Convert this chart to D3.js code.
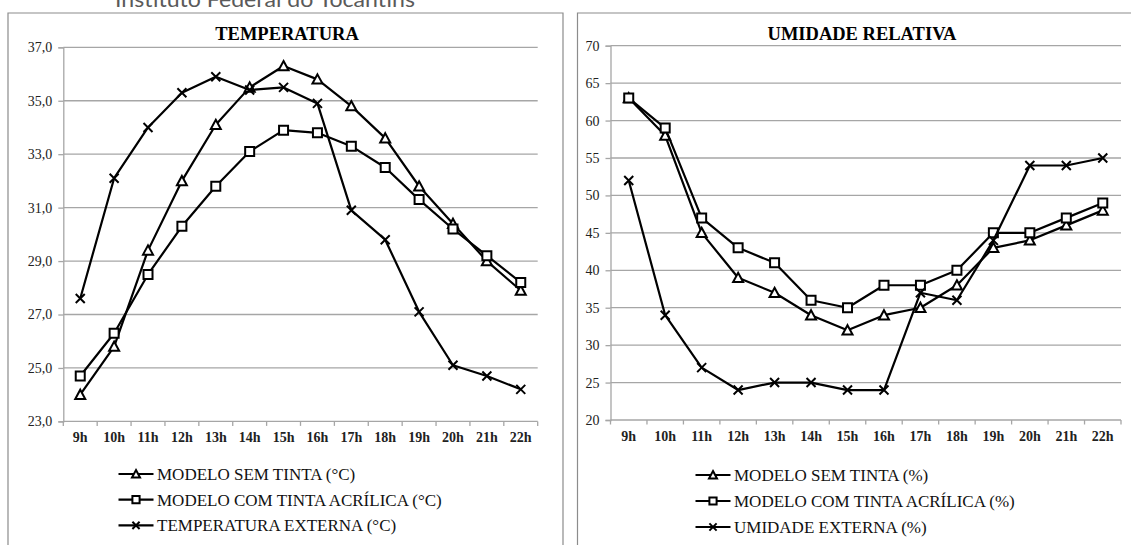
<!DOCTYPE html>
<html>
<head>
<meta charset="utf-8">
<script src="https://cdn.jsdelivr.net/npm/d3@7"></script>
<style>
  html, body { margin: 0; padding: 0; background: #fff; }
  svg { display: block; }
</style>
</head>
<body>
<svg id="chart" width="1131" height="545"></svg>
<script>
// Hourly readings, 9h to 22h
const hours = ["9h", "10h", "11h", "12h", "13h", "14h", "15h", "16h", "17h", "18h", "19h", "20h", "21h", "22h"];

// Temperature (°C)
const tempSemTinta = [24.0, 25.8, 29.4, 32.0, 34.1, 35.5, 36.3, 35.8, 34.8, 33.6, 31.8, 30.4, 29.0, 27.9];
const tempComTinta = [24.7, 26.3, 28.5, 30.3, 31.8, 33.1, 33.9, 33.8, 33.3, 32.5, 31.3, 30.2, 29.2, 28.2];
const tempExterna  = [27.6, 32.1, 34.0, 35.3, 35.9, 35.4, 35.5, 34.9, 30.9, 29.8, 27.1, 25.1, 24.7, 24.2];
const tempTicks = [23, 25, 27, 29, 31, 33, 35, 37];

// Relative humidity (%)
const umidSemTinta = [63, 58, 45, 39, 37, 34, 32, 34, 35, 38, 43, 44, 46, 48];
const umidComTinta = [63, 59, 47, 43, 41, 36, 35, 38, 38, 40, 45, 45, 47, 49];
const umidExterna  = [52, 34, 27, 24, 25, 25, 24, 24, 37, 36, 44, 54, 54, 55];
const umidTicks = [20, 25, 30, 35, 40, 45, 50, 55, 60, 65, 70];

const tempLabels = ["MODELO SEM TINTA (°C)", "MODELO COM TINTA ACRÍLICA (°C)", "TEMPERATURA EXTERNA (°C)"];
const umidLabels = ["MODELO SEM TINTA (%)", "MODELO COM TINTA ACRÍLICA (%)", "UMIDADE EXTERNA (%)"];
const markerKinds = ["triangle", "square", "cross"];

const serif = "'Liberation Serif', 'Times New Roman', serif";
const gridColor = "#a6a6a6";
const frameColor = "#8c8c8c";

const svg = d3.select("#chart");
svg.append("rect").attr("width", 1131).attr("height", 545).attr("fill", "#fff");

// Page header, partly above the visible area
svg.append("text")
  .attr("x", 115).attr("y", 7)
  .attr("textLength", 300).attr("lengthAdjust", "spacingAndGlyphs")
  .style("font-family", "Lato, 'Open Sans', sans-serif")
  .style("font-size", "21px")
  .attr("fill", "#5a5a5a")
  .text("Instituto Federal do Tocantins");

function markerPath(kind, r) {
  if (kind === "triangle") {
    return `M0,${-r}L${r},${r * 0.85}L${-r},${r * 0.85}Z`;
  }
  if (kind === "square") {
    const s = r * 0.9;
    return `M${-s},${-s}H${s}V${s}H${-s}Z`;
  }
  const c = r * 0.9;
  return `M${-c},${-c}L${c},${c}M${c},${-c}L${-c},${c}`;
}

function drawPanel(cfg) {
  const g = svg.append("g");

  // chart frame (bottom runs past the page edge)
  g.append("path")
    .attr("d", `M${cfg.frame[0]},560V${cfg.frameTop}H${cfg.frame[1]}V560`)
    .attr("fill", "none").attr("stroke", frameColor).attr("stroke-width", 1.2);

  const x = d3.scaleBand().domain(hours).range([cfg.left, cfg.right]);
  const y = d3.scaleLinear().domain(cfg.domain).range([cfg.bottom, cfg.top]);
  const cx = h => x(h) + x.bandwidth() / 2;

  // horizontal gridlines
  g.append("g").selectAll("line").data(cfg.ticks).join("line")
    .attr("x1", cfg.left).attr("x2", cfg.right)
    .attr("y1", d => y(d)).attr("y2", d => y(d))
    .attr("stroke", gridColor).attr("stroke-width", 1.3);

  // value axis
  const yAxis = d3.axisLeft(y).tickValues(cfg.ticks).tickSize(5).tickPadding(6).tickFormat(cfg.format);
  const ya = g.append("g").attr("transform", `translate(${cfg.left},0)`).call(yAxis);
  ya.select(".domain").attr("stroke", gridColor).attr("stroke-width", 1.3);
  ya.selectAll(".tick line").attr("stroke", gridColor).attr("stroke-width", 1.3);
  ya.selectAll(".tick text")
    .style("font-family", serif).style("font-size", "14px").attr("fill", "#222");

  // category axis: ticks sit on the band boundaries
  const bounds = d3.range(hours.length + 1).map(i => cfg.left + i * x.step());
  g.append("g").selectAll("line").data(bounds).join("line")
    .attr("x1", d => d).attr("x2", d => d)
    .attr("y1", cfg.bottom).attr("y2", cfg.bottom + 4.5)
    .attr("stroke", gridColor).attr("stroke-width", 1.3);
  g.append("g").selectAll("text").data(hours).join("text")
    .attr("x", d => cx(d)).attr("y", cfg.bottom + 21)
    .attr("text-anchor", "middle")
    .style("font-family", serif).style("font-size", "14px").style("font-weight", "bold")
    .attr("fill", "#222")
    .text(d => d);

  // title
  g.append("text")
    .attr("x", cfg.titleX).attr("y", 40)
    .attr("text-anchor", "middle")
    .style("font-family", serif).style("font-size", "18.5px").style("font-weight", "bold")
    .attr("fill", "#000")
    .text(cfg.title);

  // series
  const line = d3.line().x((d, i) => cx(hours[i])).y(d => y(d));
  cfg.series.forEach((vals, si) => {
    const sg = g.append("g");
    sg.append("path").attr("d", line(vals))
      .attr("fill", "none").attr("stroke", "#000").attr("stroke-width", 2.2)
      .attr("stroke-linejoin", "round");
    sg.selectAll("path.mk").data(vals).join("path")
      .attr("class", "mk")
      .attr("transform", (d, i) => `translate(${cx(hours[i])},${y(d)})`)
      .attr("d", markerPath(markerKinds[si], 5))
      .attr("fill", markerKinds[si] === "cross" ? "none" : "#fff")
      .attr("stroke", "#000").attr("stroke-width", 2);
  });

  // legend
  const lg = g.append("g");
  cfg.labels.forEach((lab, i) => {
    const ly = cfg.legendY + i * cfg.legendDy;
    lg.append("line")
      .attr("x1", cfg.legendX).attr("x2", cfg.legendX + 35)
      .attr("y1", ly).attr("y2", ly)
      .attr("stroke", "#000").attr("stroke-width", 2.2);
    lg.append("path")
      .attr("transform", `translate(${cfg.legendX + 17.5},${ly})`)
      .attr("d", markerPath(markerKinds[i], 4))
      .attr("fill", markerKinds[i] === "cross" ? "none" : "#fff")
      .attr("stroke", "#000").attr("stroke-width", 2);
    lg.append("text")
      .attr("x", cfg.legendX + 38.5).attr("y", ly).attr("dy", "0.35em")
      .style("font-family", serif).style("font-size", "17px").attr("fill", "#111")
      .text(lab);
  });
}

const commaFmt = d => d3.format(".1f")(d).replace(".", ",");

drawPanel({
  frame: [8, 563], frameTop: 13,
  left: 63.3, right: 537.7, top: 47.3, bottom: 421.4,
  domain: [23, 37], ticks: tempTicks, format: commaFmt,
  title: "TEMPERATURA", titleX: 287,
  series: [tempSemTinta, tempComTinta, tempExterna],
  labels: tempLabels,
  legendX: 118.5, legendY: 474, legendDy: 25.7
});

drawPanel({
  frame: [577.5, 1146], frameTop: 13,
  left: 610.5, right: 1121, top: 45.7, bottom: 420,
  domain: [20, 70], ticks: umidTicks, format: d3.format("d"),
  title: "UMIDADE RELATIVA", titleX: 862,
  series: [umidSemTinta, umidComTinta, umidExterna],
  labels: umidLabels,
  legendX: 695.5, legendY: 475, legendDy: 26
});
</script>
</body>
</html>
